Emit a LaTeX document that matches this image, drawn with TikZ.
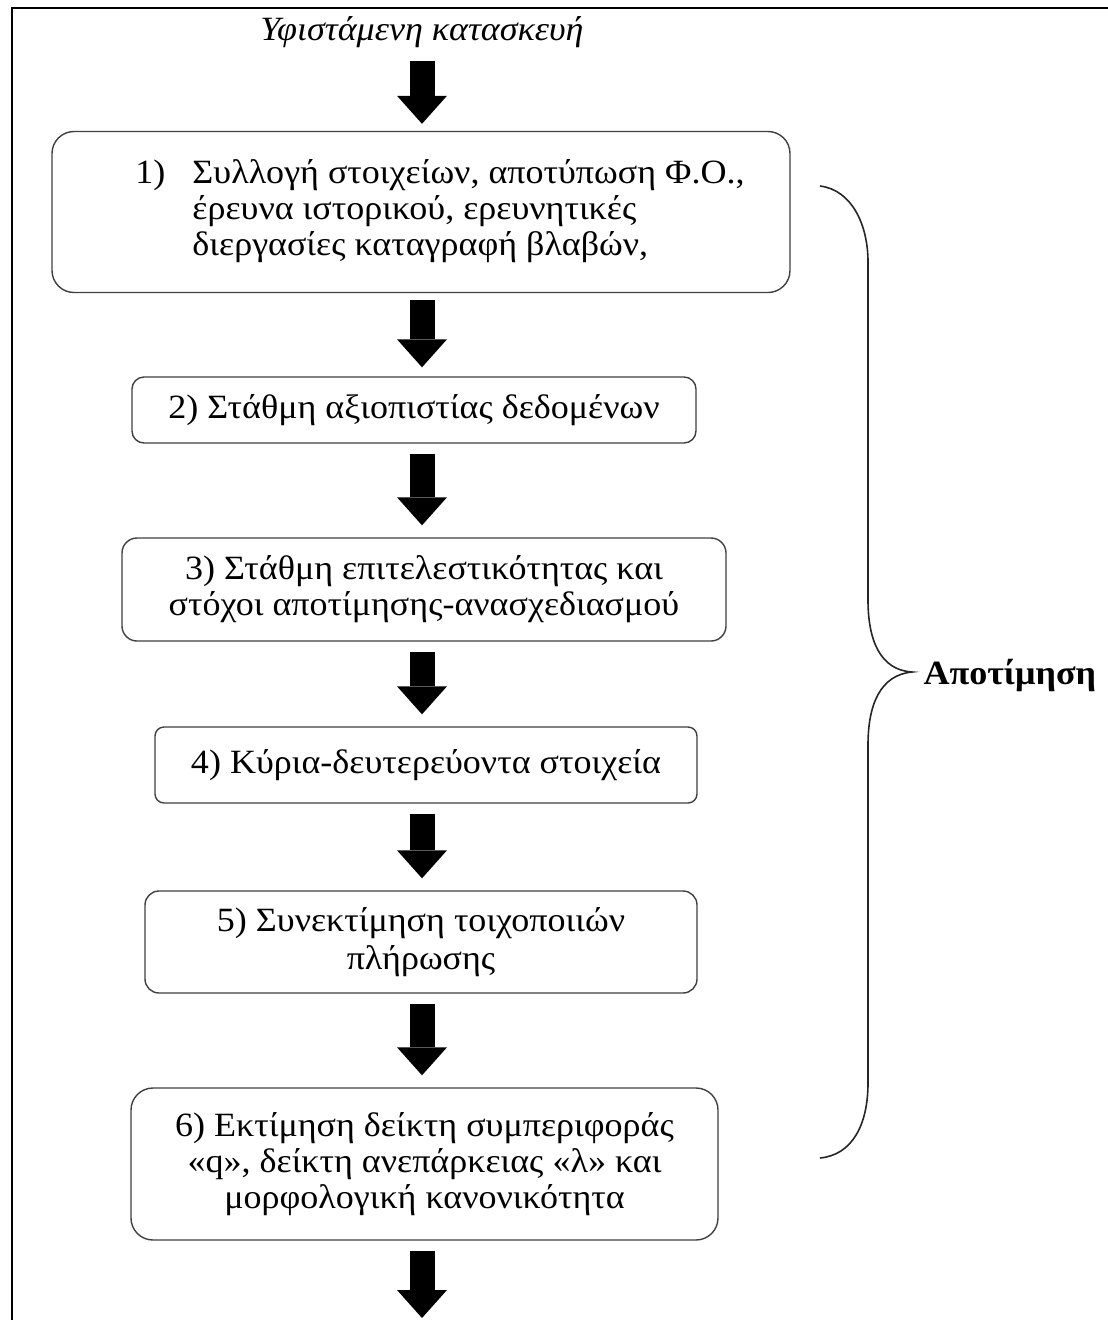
\documentclass[tikz,border=0pt]{standalone}
\usepackage{fontspec}
\setmainfont[FakeStretch=1.06]{Liberation Serif}
\usetikzlibrary{arrows.meta}

\begin{document}
\begin{tikzpicture}[x=1pt,y=-1pt,
    box/.style={draw=black!75, line width=1.4pt, fill=white, inner sep=0pt,
      align=center, font=\fontsize{34}{36}\selectfont},
    blockarrow/.style={line width=25pt,
      -{Triangle[width=50pt,length=28pt,line width=0pt]},
      shorten <=10pt, shorten >=12pt}]
  \useasboundingbox (0,0) rectangle (1108,1320);
  % frame
  \draw[line width=2pt] (12,1320) -- (12,8) -- (1108,8);
  \coordinate (ax) at (422,0);

  \node[font=\itshape\fontsize{34}{36}\selectfont] (start) at (422,32) {Υφιστάμενη κατασκευή};

  \node[box, rounded corners=22pt, minimum width=738pt, minimum height=161pt] (b1) at (421,212)
    {\hspace*{38pt}\begin{tabular}{@{}l@{\hspace{27pt}}l@{}}
      1) & Συλλογή στοιχείων, αποτύπωση Φ.Ο.,\\
         & έρευνα ιστορικού, ερευνητικές\\
         & διεργασίες καταγραφή βλαβών,
     \end{tabular}};
  \node[box, rounded corners=12pt, minimum width=564pt, minimum height=66pt] (b2) at (414,410)
    {2) Στάθμη αξιοπιστίας δεδομένων};
  \node[box, rounded corners=15pt, minimum width=604pt, minimum height=103pt] (b3) at (424,589.5)
    {3) Στάθμη επιτελεστικότητας και\\στόχοι αποτίμησης-ανασχεδιασμού};
  \node[box, rounded corners=9pt, minimum width=542pt, minimum height=76pt] (b4) at (426,765)
    {4) Κύρια-δευτερεύοντα στοιχεία};
  \node[box, rounded corners=14pt, minimum width=552pt, minimum height=102pt] (b5) at (421,942)
    {5) Συνεκτίμηση τοιχοποιιών\\[2pt]πλήρωσης};
  \node[box, rounded corners=22pt, minimum width=587pt, minimum height=152pt] (b6) at (424.5,1164)
    {6) Εκτίμηση δείκτη συμπεριφοράς\\«q», δείκτη ανεπάρκειας «λ» και\\μορφολογική κανονικότητα};
  \coordinate (next) at (422,1318);

  % flow arrows
  \draw[blockarrow, shorten <=10pt, shorten >=7pt] (start.south -| ax) -- (b1.north -| ax);
  \draw[blockarrow, shorten <=7pt, shorten >=9pt] (b1.south -| ax) -- (b2.north -| ax);
  \draw[blockarrow] (b2.south -| ax) -- (b3.north -| ax);
  \draw[blockarrow] (b3.south -| ax) -- (b4.north -| ax);
  \draw[blockarrow] (b4.south -| ax) -- (b5.north -| ax);
  \draw[blockarrow] (b5.south -| ax) -- (b6.north -| ax);
  \draw[blockarrow, shorten >=0pt] (b6.south -| ax) -- (next);

  % brace
  \draw[line width=1.6pt, black!85] (820,186) .. controls (852,190) and (868,225) .. (868,262)
    -- (868,600) .. controls (868,640) and (880,670) .. (912,672)
    .. controls (880,675) and (868,705) .. (868,745)
    -- (868,1083) .. controls (868,1125) and (852,1155) .. (820,1158);
  \node[anchor=west, font=\bfseries\fontsize{34}{36}\selectfont] (eval) at (920,675) {Αποτίμηση};
\end{tikzpicture}
\end{document}
